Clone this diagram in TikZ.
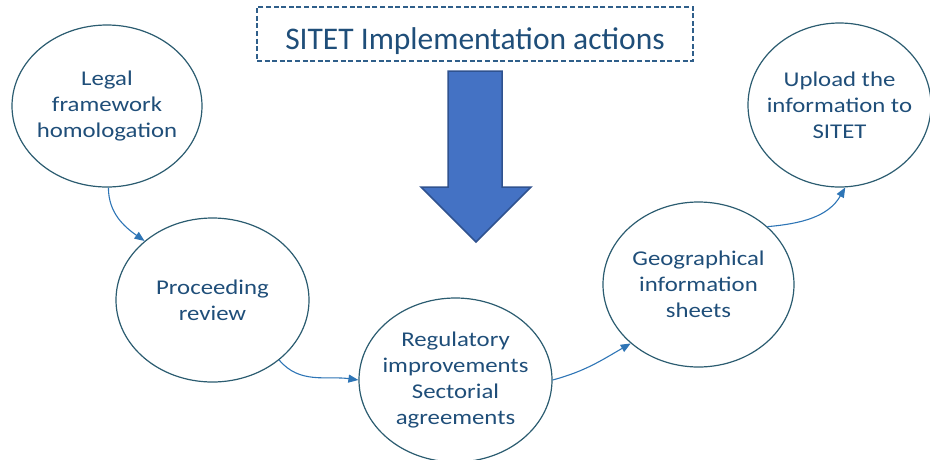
\documentclass[tikz,border=0pt]{standalone}
\usepackage{fontspec}
\setmainfont{Carlito}
\newfontfamily\ellfont[FakeStretch=1.18]{Carlito}
\usetikzlibrary{shapes.geometric,arrows.meta}
\definecolor{txtblue}{HTML}{1F4E79}
\definecolor{ellline}{HTML}{2B5C70}
\definecolor{conn}{HTML}{2E75B6}
\definecolor{arrfill}{HTML}{4472C4}
\definecolor{arrline}{HTML}{2F528F}
\definecolor{boxline}{HTML}{2F5F8A}
\tikzset{
  bubble/.style={ellipse, draw=ellline, line width=1.2pt, inner sep=-40pt, align=center,
    text=txtblue, font=\ellfont\fontsize{21}{26}\selectfont},
  link/.style={draw=conn, line width=1.1pt, -{Triangle[length=10pt,width=8pt]}},
  titlebox/.style={draw=boxline, dash pattern=on 5pt off 2.6pt, line width=1.3pt,
    minimum width=436pt, minimum height=54pt, inner sep=0pt, text height=30pt, text depth=0pt,
    text=txtblue, font=\fontsize{31.5}{36}\selectfont}
}
\begin{document}
\begin{tikzpicture}[x=1pt,y=-1pt]
\useasboundingbox (0,0) rectangle (930,459);
\node[titlebox] (title) at (475,34) {SITET Implementation actions};
\fill[arrfill, draw=arrline, line width=1.5pt, line join=miter]
  (448,71) -- (502,71) -- (502,187) -- (531,187) -- (476,242) -- (421,187) -- (448,187) -- cycle;
\node[bubble, minimum width=190pt, minimum height=162pt] (e1) at (107,106) {Legal\\framework\\homologation};
\node[bubble, minimum width=193pt, minimum height=164pt] (e2) at (212.5,300) {Proceeding\\review};
\node[bubble, minimum width=193pt, minimum height=164pt] (e3) at (455.5,380) {Regulatory\\improvements\\Sectorial\\agreements};
\node[bubble, minimum width=191pt, minimum height=165pt] (e4) at (698.5,284.5) {Geographical\\information\\sheets};
\node[bubble, minimum width=183pt, minimum height=164pt] (e5) at (839.5,105) {Upload the\\information to\\SITET};
\draw[link] (e1.-89) to[out=-90, in=145] (e2.139);
\draw[link] (e2.-42) to[out=-50, in=172] (e3.180);
\draw[link] (e3.0) to[out=15, in=210] (e4.-139);
\draw[link] (e4.40) to[out=5, in=-120] (e5.-86);
\end{tikzpicture}
\end{document}
